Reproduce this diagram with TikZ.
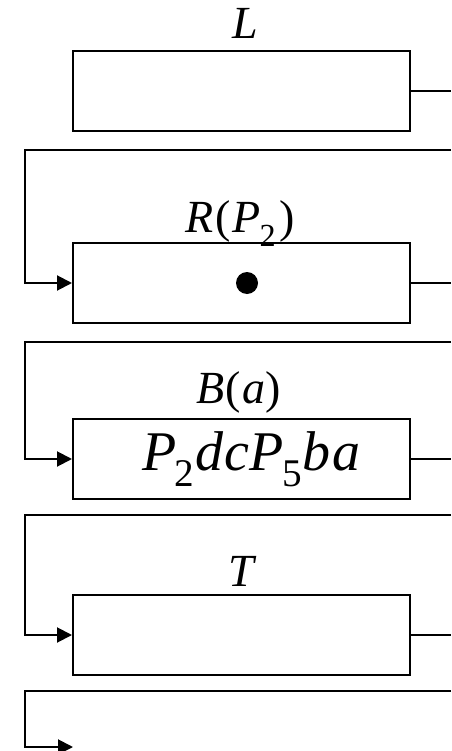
\documentclass[tikz,border=0pt]{standalone}
\usepackage{fontspec}
\setmainfont{Liberation Serif}
\usetikzlibrary{arrows.meta}
\newcommand{\subdig}[1]{\raisebox{-0.29em}{\upshape\fontsize{0.7em}{0.7em}\selectfont #1}}
\begin{document}
\begin{tikzpicture}[x=1pt,y=-1pt,
  line width=2pt,
  stackbox/.style={draw,rectangle,minimum width=337pt,minimum height=80pt,inner sep=0pt},
  lbl/.style={anchor=base,inner sep=0pt,font=\fontsize{46}{46}\selectfont},
  arr/.style={-{Triangle[length=15pt,width=15pt]}}]
\useasboundingbox (0,0) rectangle (451,751);
% boxes
\node[stackbox] (bL) at (241.5,91) {};
\node[stackbox] (bR) at (241.5,283) {};
\node[stackbox] (bB) at (241.5,459) {};
\node[stackbox] (bT) at (241.5,635) {};
% labels
\node[lbl] (tL) at (245,39) {\itshape L};
\node[lbl] (tR) at (240,233) {\itshape R\kern2pt\upshape(\kern2pt\itshape P\kern-1pt\subdig{2}\kern4pt\upshape)};
\node[lbl] (tB) at (238.5,403) {\itshape B\kern1pt\upshape(\kern2pt\itshape a\upshape)};
\node[lbl] (tT) at (241.5,586) {\itshape T};
% contents
\node[circle,fill,minimum size=22pt,inner sep=0pt] (dot) at (247,283) {};
\node[anchor=base,inner sep=0pt,font=\fontsize{56}{56}\selectfont] (seq) at (251.5,470)
  {\itshape P\kern-2pt\subdig{2}\kern1pt d\kern1pt c\kern1pt P\kern-2pt\subdig{5}\kern1pt b\kern2pt a};
% stubs to the right edge
\coordinate (eL) at (451,91);
\coordinate (eR) at (451,283);
\coordinate (eB) at (451,459);
\coordinate (eT) at (451,635);
\draw (bL.east) -- (eL);
\draw (bR.east) -- (eR);
\draw (bB.east) -- (eB);
\draw (bT.east) -- (eT);
% return lines
\coordinate (r1) at (451,150);
\coordinate (r2) at (451,342);
\coordinate (r3) at (451,515);
\coordinate (r4) at (451,691);
\coordinate (endA) at (73,747);
\draw[arr] (r1) -| (25,283) -- (bR.west);
\draw[arr] (r2) -| (25,459) -- (bB.west);
\draw[arr] (r3) -| (25,635) -- (bT.west);
\draw[arr] (r4) -| (25,747) -- (endA);
\end{tikzpicture}
\end{document}
